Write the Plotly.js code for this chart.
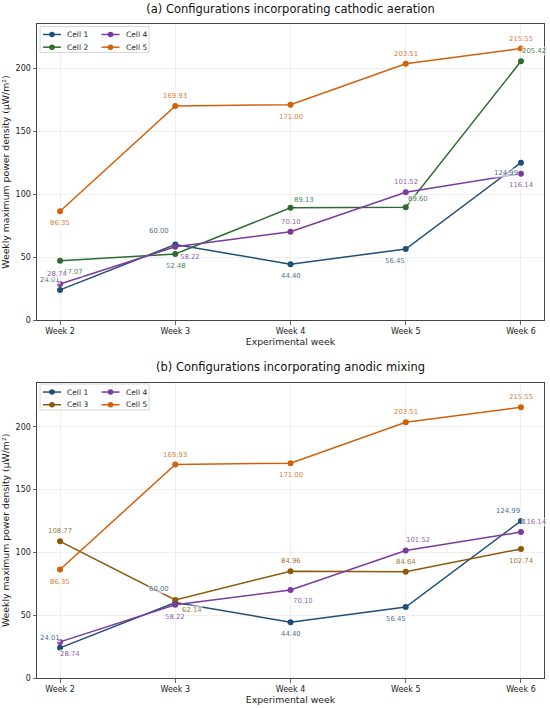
<!DOCTYPE html>
<html>
<head>
<meta charset="utf-8">
<script src="https://cdn.plot.ly/plotly-3.0.1.min.js"></script>
<style>html,body{margin:0;padding:0;background:#fff}#chart{width:550px;height:708px}</style>
</head>
<body>
<div id="chart"></div>
<script>
// ---- data ----
const weeks = ['Week 2', 'Week 3', 'Week 4', 'Week 5', 'Week 6'];
const cell1 = [24.01, 60.00, 44.40, 56.45, 124.99];
const cell2 = [47.07, 52.48, 89.13, 89.60, 205.42];
const cell3 = [108.77, 62.14, 84.96, 84.64, 102.74];
const cell4 = [28.74, 58.22, 70.10, 101.52, 116.14];
const cell5 = [86.35, 169.93, 171.00, 203.51, 215.55];
const yTicks = [0, 50, 100, 150, 200];
const titleA = '(a) Configurations incorporating cathodic aeration';
const titleB = '(b) Configurations incorporating anodic mixing';
const xTitle = 'Experimental week';
const yTitle = 'Weekly maximum power density (µW/m²)';

// ---- styles ----
const FONT = 'DejaVu Sans, sans-serif';
const colors = {
  'Cell 1': '#1f4e79',
  'Cell 2': '#2d6b31',
  'Cell 3': '#8a5a08',
  'Cell 4': '#7b3a9e',
  'Cell 5': '#d2600a'
};
const labelColors = {
  'Cell 1': 'rgba(31,78,121,0.85)',
  'Cell 2': 'rgba(45,107,49,0.85)',
  'Cell 3': 'rgba(138,90,8,0.85)',
  'Cell 4': 'rgba(123,58,158,0.85)',
  'Cell 5': 'rgba(210,96,10,0.85)'
};
// label placement offsets in px [dx, dy(down)]
const offA = {
  'Cell 1': [[-10,-10],[-16,-14],[0,12],[-11,12],[-15,10]],
  'Cell 2': [[13,11],[1,12],[13,-8],[12,-8],[13,-10]],
  'Cell 4': [[-3,-10],[15,10],[0,-10],[0,-10],[0,11]],
  'Cell 5': [[0,12],[0,-10],[0,12],[0,-10],[0,-10]]
};
const offB = {
  'Cell 1': [[-10,-10],[-16,-14],[0,12],[-10,12],[-13,-10]],
  'Cell 3': [[0,-10],[17,10],[0,-10],[0,-10],[0,12]],
  'Cell 4': [[10,12],[0,12],[12,11],[12,-10],[13,-10]],
  'Cell 5': [[0,12],[0,-10],[0,12],[0,-10],[0,-10]]
};

const panelA = [['Cell 1', cell1], ['Cell 2', cell2], ['Cell 4', cell4], ['Cell 5', cell5]];
const panelB = [['Cell 1', cell1], ['Cell 3', cell3], ['Cell 4', cell4], ['Cell 5', cell5]];

// layout geometry (px)
const W = 550, H = 708;
const M = {l: 37, r: 6.3, t: 23.5, b: 29.7};
const PW = W - M.l - M.r, PH = H - M.t - M.b;
const px2x = px => (px - M.l) / PW;
const px2y = py => (H - M.b - py) / PH;

const traces = [];
const annotations = [];
const shapes = [];

function addPanel(panel, xa, ya, offs) {
  panel.forEach(([name, vals]) => {
    traces.push({
      x: weeks, y: vals, name: name, type: 'scatter', mode: 'lines+markers',
      xaxis: xa, yaxis: ya, showlegend: false,
      line: {color: colors[name], width: 1.5},
      marker: {color: colors[name], size: 6},
      hoverinfo: 'skip'
    });
    vals.forEach((v, i) => {
      annotations.push({
        x: weeks[i], y: v, xref: xa, yref: ya,
        text: v.toFixed(2), showarrow: false,
        xshift: offs[name][i][0], yshift: -offs[name][i][1],
        font: {family: FONT, size: 6.9, color: labelColors[name]},
        bgcolor: 'rgba(255,255,255,0.6)', borderpad: 0
      });
    });
  });
}
addPanel(panelA, 'x', 'y', offA);
addPanel(panelB, 'x2', 'y2', offB);

// legend (two columns, matplotlib-style) drawn as decoration
function addLegend(panel, top) {
  shapes.push({type: 'rect', xref: 'paper', yref: 'paper',
    x0: px2x(40), x1: px2x(149), y0: px2y(top + 26), y1: px2y(top),
    line: {color: '#cccccc', width: 0.8}, fillcolor: 'rgba(255,255,255,0.8)', layer: 'above'});
  const cols = [[43, 61, 65], [101.5, 119.5, 124]];
  const rows = [top + 8, top + 20.7];
  const order = [panel[0][0], panel[1][0], panel[2][0], panel[3][0]];
  order.forEach((name, k) => {
    const c = cols[Math.floor(k / 2)], ry = rows[k % 2];
    shapes.push({type: 'line', xref: 'paper', yref: 'paper',
      x0: px2x(c[0]), x1: px2x(c[1]), y0: px2y(ry), y1: px2y(ry),
      line: {color: colors[name], width: 1.5}, layer: 'above'});
    const mx = (c[0] + c[1]) / 2;
    shapes.push({type: 'circle', xref: 'paper', yref: 'paper',
      x0: px2x(mx - 2.8), x1: px2x(mx + 2.8), y0: px2y(ry + 2.8), y1: px2y(ry - 2.8),
      line: {color: colors[name], width: 0}, fillcolor: colors[name], layer: 'above'});
    annotations.push({text: name, xref: 'paper', yref: 'paper', x: px2x(c[2]), y: px2y(ry),
      xanchor: 'left', yanchor: 'middle', showarrow: false,
      font: {family: FONT, size: 7.5, color: '#1a1a1a'}});
  });
}
addLegend(panelA, 26);
addLegend(panelB, 384);

annotations.push({
  text: titleB, xref: 'paper', yref: 'paper', x: 0.5, y: px2y(367.3),
  xanchor: 'center', yanchor: 'middle', showarrow: false,
  font: {family: FONT, size: 11.5, color: '#111'}
});

const axCommon = {
  showline: true, mirror: true, linecolor: '#444', linewidth: 1,
  ticks: 'outside', ticklen: 3.5, tickwidth: 0.8, tickcolor: '#444',
  showgrid: true, gridcolor: '#ebebeb', gridwidth: 0.8,
  zeroline: false, automargin: false,
  tickfont: {family: FONT, size: 8, color: '#1a1a1a'}
};
function xAxis(dom) {
  return Object.assign({}, axCommon, {
    type: 'category', range: [-0.2, 4.2], domain: [0, 1], anchor: dom,
    title: {text: xTitle, font: {family: FONT, size: 9.3, color: '#1a1a1a'}, standoff: 1}
  });
}
function yAxis(domain, anchor) {
  return Object.assign({}, axCommon, {
    range: [0, 235], domain: domain, anchor: anchor,
    tickvals: yTicks, ticktext: yTicks.map(String),
    title: {text: yTitle, font: {family: FONT, size: 9.3, color: '#1a1a1a'}, standoff: 4}
  });
}

const layout = {
  width: W, height: H,
  margin: M,
  paper_bgcolor: '#ffffff', plot_bgcolor: '#ffffff',
  title: {text: titleA, x: 0.5, xref: 'paper', xanchor: 'center', y: 1 - 9.3 / H, yref: 'container', yanchor: 'middle',
          font: {family: FONT, size: 11.5, color: '#111'}},
  xaxis: xAxis('y'),
  yaxis: yAxis([px2y(320), 1], 'x'),
  xaxis2: xAxis('y2'),
  yaxis2: yAxis([0, px2y(382.7)], 'x2'),
  showlegend: false,
  shapes: shapes,
  annotations: annotations
};

Plotly.newPlot('chart', traces, layout, {staticPlot: true, displayModeBar: false});
</script>
</body>
</html>
